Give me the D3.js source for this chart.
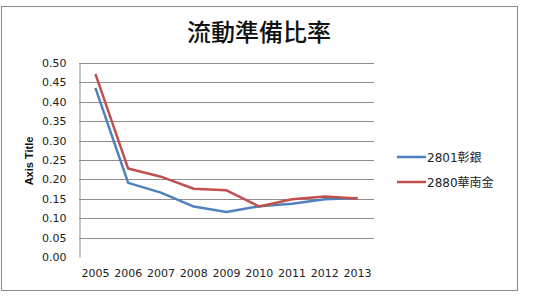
<!DOCTYPE html>
<html>
<head>
<meta charset="utf-8">
<script src="https://cdn.jsdelivr.net/npm/d3@7"></script>
<style>
  body { margin: 0; background: #fff; }
  svg { display: block; }
</style>
</head>
<body>
<script>
var years = ["2005", "2006", "2007", "2008", "2009", "2010", "2011", "2012", "2013"];
var changhwa = [0.436, 0.191, 0.166, 0.130, 0.116, 0.131, 0.137, 0.149, 0.152];
var huanan = [0.472, 0.228, 0.207, 0.176, 0.172, 0.130, 0.149, 0.156, 0.151];
var seriesNames = ["2801彰銀", "2880華南金"];
var seriesColors = ["#4f81bd", "#c0504d"];
var yTicks = [0, 0.05, 0.10, 0.15, 0.20, 0.25, 0.30, 0.35, 0.40, 0.45, 0.50];

var w = 533, h = 300;

var svg = d3.select("body")
  .append("svg")
  .attr("width", w)
  .attr("height", h);

// chart frame
svg.append("rect")
  .attr("x", 1.5).attr("y", 6.5)
  .attr("width", 516).attr("height", 284)
  .attr("fill", "#fff")
  .attr("stroke", "#8c8c8c");

svg.append("text")
  .attr("x", 259).attr("y", 41)
  .attr("text-anchor", "middle")
  .attr("font-family", "Noto Sans CJK TC")
  .attr("font-weight", 500)
  .attr("font-size", 24)
  .attr("fill", "#111")
  .text("流動準備比率");

var x = d3.scaleBand()
  .domain(years)
  .range([79, 374]);

var y = d3.scaleLinear()
  .domain([0, 0.5])
  .range([257, 63]);

// gridlines
svg.selectAll("line.grid")
  .data(yTicks.slice(1))
  .enter()
  .append("line")
  .attr("class", "grid")
  .attr("x1", 79).attr("x2", 374)
  .attr("y1", d => Math.round(y(d)) + 0.5)
  .attr("y2", d => Math.round(y(d)) + 0.5)
  .attr("stroke", "#8e8e8e")
  .attr("stroke-width", 1);

var yAxis = svg.append("g")
  .attr("transform", "translate(79.5,0)")
  .call(d3.axisLeft(y).tickValues(yTicks).tickFormat(d3.format(".2f")).tickSize(0).tickPadding(13));
yAxis.select(".domain").attr("stroke", "#8e8e8e");
yAxis.selectAll("text")
  .attr("font-family", "DejaVu Sans")
  .attr("font-size", 11)
  .attr("fill", "#222");

var xAxis = svg.append("g")
  .attr("transform", "translate(0,257)")
  .call(d3.axisBottom(x).tickSize(0).tickPadding(12));
xAxis.select(".domain").remove();
xAxis.selectAll("text")
  .attr("font-family", "DejaVu Sans")
  .attr("font-size", 11)
  .attr("fill", "#222");

svg.append("text")
  .attr("transform", "translate(33,161) rotate(-90)")
  .attr("text-anchor", "middle")
  .attr("font-family", "Liberation Sans")
  .attr("font-weight", "bold")
  .attr("font-size", 11)
  .attr("fill", "#111")
  .text("Axis Title");

var line = d3.line()
  .x((d, i) => x(years[i]) + x.bandwidth() / 2)
  .y(d => y(d));

[changhwa, huanan].forEach(function(vals, i) {
  svg.append("path")
    .datum(vals)
    .attr("d", line)
    .attr("fill", "none")
    .attr("stroke", seriesColors[i])
    .attr("stroke-width", 2.5)
    .attr("stroke-linejoin", "round");
});

var legend = svg.selectAll("g.legend")
  .data(seriesNames)
  .enter()
  .append("g")
  .attr("class", "legend")
  .attr("transform", (d, i) => "translate(397," + (157 + i * 25) + ")");

legend.append("line")
  .attr("x1", 0).attr("x2", 29)
  .attr("stroke", (d, i) => seriesColors[i])
  .attr("stroke-width", 2.5);

legend.append("text")
  .attr("x", 30).attr("y", 5)
  .attr("font-family", "DejaVu Sans, Noto Sans CJK TC")
  .attr("font-size", 12)
  .attr("fill", "#222")
  .text(d => d);
</script>
</body>
</html>
